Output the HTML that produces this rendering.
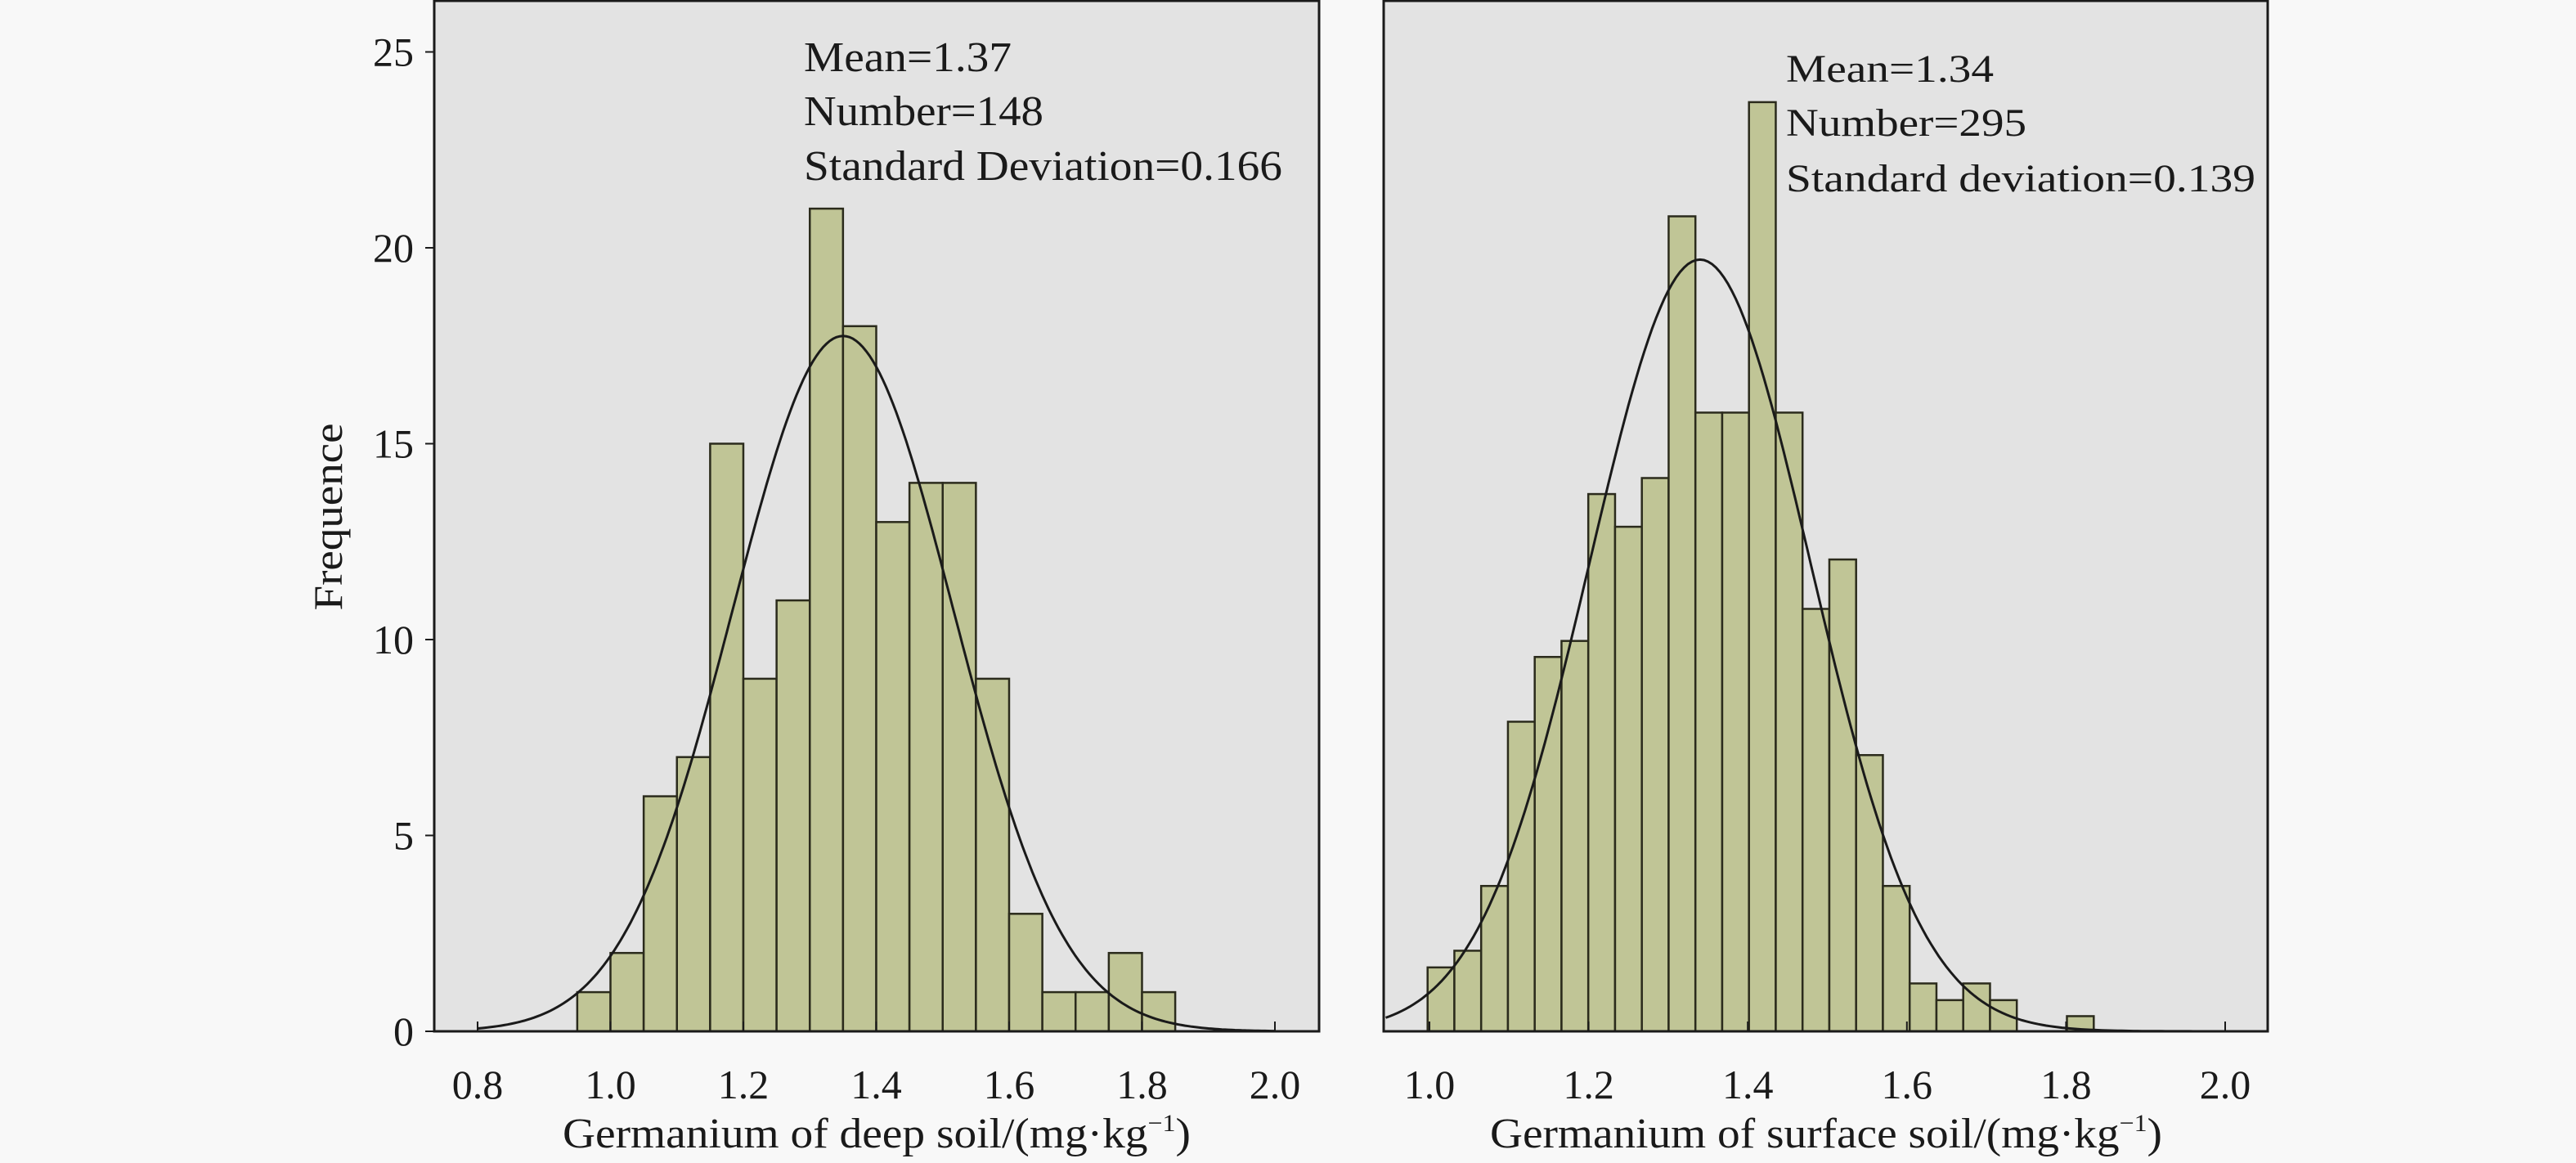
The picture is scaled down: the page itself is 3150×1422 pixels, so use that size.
<!DOCTYPE html>
<html><head><meta charset="utf-8">
<style>
html,body{margin:0;padding:0;background:#f8f8f8;}
svg{display:block;}
text{font-family:"Liberation Serif",serif;fill:#1a1a1a;}
</style></head>
<body>
<svg id="s" width="3150" height="1422" viewBox="0 0 3150 1422" xmlns="http://www.w3.org/2000/svg">
<rect x="0" y="0" width="3150" height="1422" fill="#f8f8f8"/>
<rect x="531" y="1" width="1082" height="1260" fill="#e3e3e3"/>
<rect x="1692" y="1" width="1081" height="1260" fill="#e3e3e3"/>
<g id="bars"></g>
<g id="curves"></g>
<rect x="531" y="1" width="1082" height="1260" fill="none" stroke="#1a1a1a" stroke-width="3"/>
<rect x="1692" y="1" width="1081" height="1260" fill="none" stroke="#1a1a1a" stroke-width="3"/>
<g id="ticks" stroke="#1a1a1a" stroke-width="2"></g>
<g id="labels" font-size="50"></g>
<text x="983" y="87" font-size="52" textLength="254" lengthAdjust="spacingAndGlyphs">Mean=1.37</text>
<text x="983" y="153" font-size="52" textLength="293" lengthAdjust="spacingAndGlyphs">Number=148</text>
<text x="983" y="220" font-size="52" textLength="585" lengthAdjust="spacingAndGlyphs">Standard Deviation=0.166</text>
<text x="2184" y="100" font-size="48" textLength="254" lengthAdjust="spacingAndGlyphs">Mean=1.34</text>
<text x="2184" y="166" font-size="48" textLength="294" lengthAdjust="spacingAndGlyphs">Number=295</text>
<text x="2184" y="234" font-size="48" textLength="574" lengthAdjust="spacingAndGlyphs">Standard deviation=0.139</text>
<text transform="translate(418,632) rotate(-90)" text-anchor="middle" font-size="50" textLength="229" lengthAdjust="spacingAndGlyphs">Frequence</text>
<text x="688" y="1403" font-size="52" textLength="768" lengthAdjust="spacingAndGlyphs">Germanium of deep soil/(mg·kg<tspan dy="-20" font-size="30">−1</tspan><tspan dy="20">)</tspan></text>
<text x="1822" y="1403" font-size="52" textLength="822" lengthAdjust="spacingAndGlyphs">Germanium of surface soil/(mg·kg<tspan dy="-20" font-size="30">−1</tspan><tspan dy="20">)</tspan></text>
</svg>
<script>
var NS="http://www.w3.org/2000/svg";
function el(p,t,a,txt){var e=document.createElementNS(NS,t);for(var k in a)e.setAttribute(k,a[k]);if(txt!==undefined)e.textContent=txt;document.getElementById(p).appendChild(e);return e;}
var base=1261,u=47.9;
var lx=function(v){return 584+(v-0.8)*812.5;};
var lh=[1,2,6,7,15,9,11,21,18,13,14,14,9,3,1,1,2,1];
for(var i=0;i<lh.length;i++){var x0=lx(0.95+0.05*i);el("bars","rect",{x:x0,y:base-lh[i]*u,width:40.6,height:lh[i]*u,fill:"#c0c596",stroke:"#2b2b1c","stroke-width":2.5});}
var tops=[1449,1424,1327,1081,984,960,740,789,716,324,618,618,153,618,912,838,1131,1327,1473,1498,1473,1498];
for(var i=0;i<tops.length;i++){var x0=1745.7+i*32.75;var y=tops[i]/1.225;el("bars","rect",{x:x0,y:y,width:32.75,height:base-y,fill:"#c0c596",stroke:"#2b2b1c","stroke-width":2.5});}
el("bars","rect",{x:2527.5,y:1522/1.225,width:32.8,height:base-1522/1.225,fill:"#c0c596",stroke:"#2b2b1c","stroke-width":2.5});
function curve(x1,x2,fx,mu,sg,pk){var d="";for(var v=x1;v<=x2;v+=0.005){var y=base-pk*u*Math.exp(-0.5*Math.pow((v-mu)/sg,2));d+=(d?"L":"M")+fx(v).toFixed(1)+","+y.toFixed(1);}el("curves","path",{d:d,fill:"none",stroke:"#1a1a1a","stroke-width":3});}
curve(0.8,2.0,lx,1.35,0.166,17.75);
var rx=function(v){return 1748+(v-1.0)*973;};
curve(0.945,1.995,rx,1.34,0.139,19.7);
for(var k=0;k<=25;k+=5){var y=base-k*u;el("ticks","line",{x1:520,y1:y,x2:531,y2:y});el("labels","text",{x:506,y:y+17,"text-anchor":"end"},String(k));}
var lv=[0.8,1.0,1.2,1.4,1.6,1.8,2.0];
lv.forEach(function(v){var x=lx(v);el("ticks","line",{x1:x,y1:base,x2:x,y2:base-12});el("labels","text",{x:x,y:1343,"text-anchor":"middle"},v.toFixed(1));});
[1.0,1.2,1.4,1.6,1.8,2.0].forEach(function(v){var x=rx(v);el("ticks","line",{x1:x,y1:base,x2:x,y2:base-12});el("labels","text",{x:x,y:1343,"text-anchor":"middle"},v.toFixed(1));});
</script>
</body></html>
